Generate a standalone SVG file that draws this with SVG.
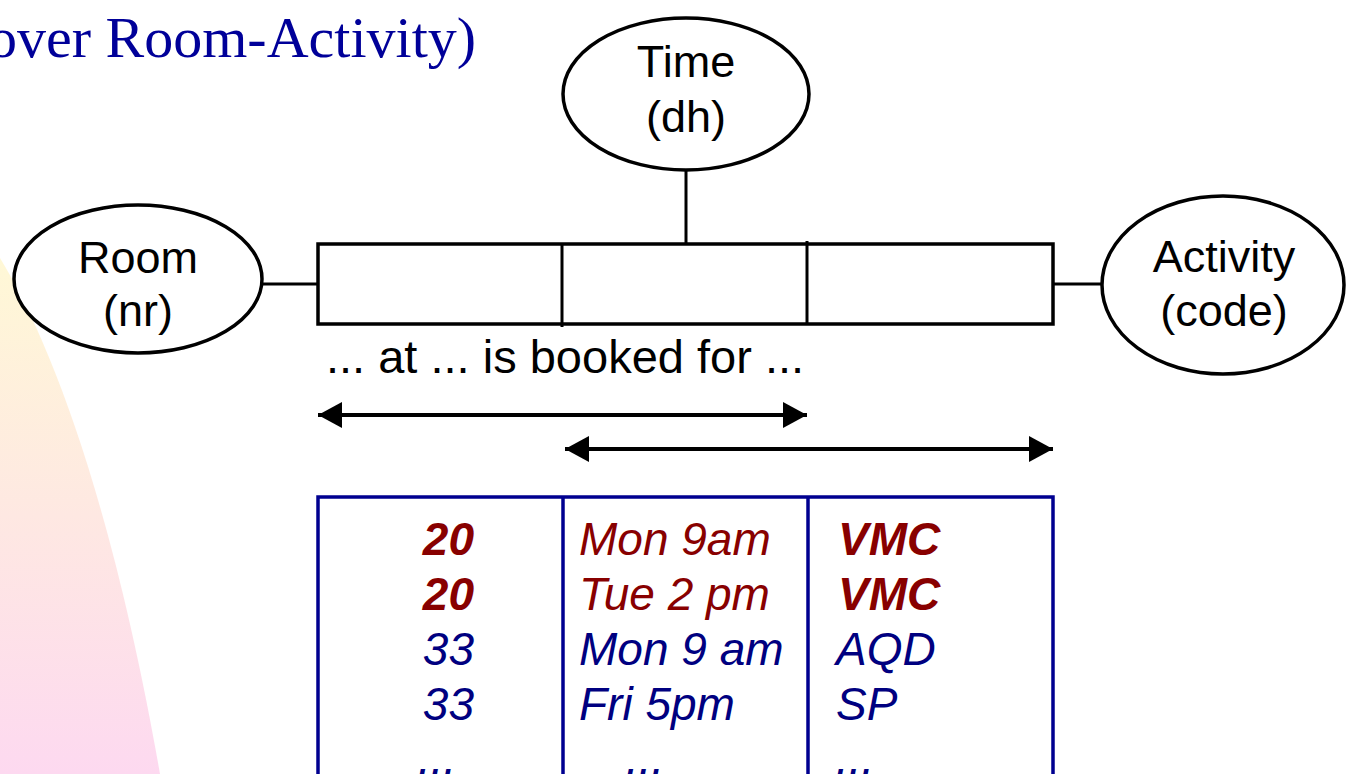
<svg xmlns="http://www.w3.org/2000/svg" width="1346" height="774" viewBox="0 0 1346 774">
  <style>
    .ent { fill: #ffffff; stroke: #000000; stroke-width: 3.5; }
    .lbl { font-family: "Liberation Sans", Arial, sans-serif; font-size: 45px; fill: #000000; text-anchor: middle; }
    .wire { stroke: #000000; stroke-width: 3; fill: none; }
    .span { stroke: #000000; stroke-width: 4; fill: none; marker-start: url(#head); marker-end: url(#head); }
    .grid { stroke: #000090; stroke-width: 3.5; fill: #ffffff; }
    .cell { font-family: "Liberation Sans", Arial, sans-serif; font-size: 46px; font-style: italic; }
    .red { fill: #880000; }
    .blue { fill: #000080; }
    .b { font-weight: bold; }
  </style>
  <defs>
    <linearGradient id="swoosh" gradientUnits="userSpaceOnUse" x1="0" y1="258" x2="0" y2="774">
      <stop offset="0" stop-color="#FFF8D6"/>
      <stop offset="0.5" stop-color="#FEE8E2"/>
      <stop offset="1" stop-color="#FDD9F0"/>
    </linearGradient>
    <marker id="head" markerUnits="userSpaceOnUse" markerWidth="26" markerHeight="28" refX="24" refY="13" orient="auto-start-reverse">
      <path d="M0,0 L24,13 L0,26 Z" fill="#000000"/>
    </marker>
  </defs>

  <!-- background -->
  <rect x="0" y="0" width="1346" height="774" fill="#ffffff"/>
  <path d="M0,258 C50,340 112,500 160,774 L0,774 Z" fill="url(#swoosh)"/>

  <!-- heading fragment -->
  <text x="-12" y="57" font-family="'Liberation Serif', 'Times New Roman', serif" font-size="58" fill="#000099">over Room-Activity)</text>

  <!-- connectors -->
  <g id="connectors">
    <line class="wire" x1="262" y1="284" x2="318" y2="284"/>
    <line class="wire" x1="1053" y1="284" x2="1102" y2="284"/>
    <line class="wire" x1="686" y1="170" x2="686" y2="244"/>
    <line class="span" x1="318" y1="415" x2="807" y2="415"/>
    <line class="span" x1="565" y1="449" x2="1053" y2="449"/>
  </g>

  <!-- entity: Time -->
  <g id="time">
    <ellipse class="ent" cx="686" cy="94" rx="123" ry="76"/>
    <text class="lbl" x="686" y="77">Time</text>
    <text class="lbl" x="686" y="132">(dh)</text>
  </g>

  <!-- entity: Room -->
  <g id="room">
    <ellipse class="ent" cx="138" cy="279" rx="124" ry="74"/>
    <text class="lbl" x="138" y="273">Room</text>
    <text class="lbl" x="138" y="326">(nr)</text>
  </g>

  <!-- entity: Activity -->
  <g id="activity">
    <ellipse class="ent" cx="1223" cy="285" rx="121" ry="89"/>
    <text class="lbl" x="1224" y="272">Activity</text>
    <text class="lbl" x="1224" y="326">(code)</text>
  </g>

  <!-- fact type: three roles -->
  <g id="booking">
    <rect x="318" y="244" width="735" height="80" fill="#ffffff" stroke="#000000" stroke-width="3.5"/>
    <line class="wire" x1="562" y1="244" x2="562" y2="327" stroke-width="3.5"/>
    <line class="wire" x1="807" y1="241" x2="807" y2="324" stroke-width="3.5"/>
    <text x="326" y="373" font-family="'Liberation Sans', Arial, sans-serif" font-size="47" fill="#000000">... at ... is booked for ...</text>
  </g>

  <!-- sample population -->
  <g id="population">
    <path class="grid" d="M318,790 L318,497 L1053,497 L1053,790"/>
    <line class="grid" x1="563" y1="497" x2="563" y2="790"/>
    <line class="grid" x1="808" y1="497" x2="808" y2="790"/>

    <text class="cell red b" x="474" y="555" text-anchor="end">20</text>
    <text class="cell red" x="579" y="555">Mon 9am</text>
    <text class="cell red b" x="838" y="555">VMC</text>

    <text class="cell red b" x="474" y="610" text-anchor="end">20</text>
    <text class="cell red" x="579" y="610">Tue 2 pm</text>
    <text class="cell red b" x="838" y="610">VMC</text>

    <text class="cell blue" x="474" y="665" text-anchor="end">33</text>
    <text class="cell blue" x="579" y="665">Mon 9 am</text>
    <text class="cell blue" x="836" y="665">AQD</text>

    <text class="cell blue" x="474" y="720" text-anchor="end">33</text>
    <text class="cell blue" x="579" y="720">Fri 5pm</text>
    <text class="cell blue" x="836" y="720">SP</text>

    <text class="cell blue" x="418" y="774">...</text>
    <text class="cell blue" x="626" y="774">...</text>
    <text class="cell blue" x="836" y="774">...</text>
  </g>
</svg>
